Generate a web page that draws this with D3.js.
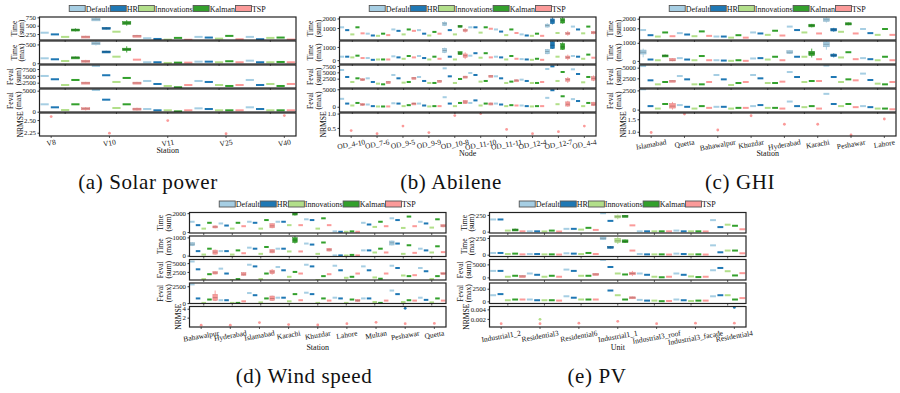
<!DOCTYPE html>
<html>
<head>
<meta charset="utf-8">
<script src="https://cdn.jsdelivr.net/npm/d3@7"></script>
<style>
  body { margin: 0; background: #fff; }
  svg text { font-family: "Liberation Serif", "DejaVu Serif", serif; fill: #111; }
</style>
</head>
<body>
<svg id="fig" width="900" height="393"></svg>
<script>
// Five figures, each five stacked box-plot panels (time / function evaluations / NRMSE)
const methods = ["Default", "HR", "Innovations", "Kalman", "TSP"];
const colors = ["#a6cee3", "#1f78b4", "#b2df8a", "#33a02c", "#fb9a99"];
const metricLabels = [["Time", "(sum)"], ["Time", "(max)"], ["Feval", "(sum)"], ["Feval", "(max)"], ["NRMSE"]];
const captions = ["(a) Solar power", "(b) Abilene", "(c) GHI", "(d) Wind speed", "(e) PV"];

// rows = category, columns = methods (Default, HR, Innovations, Kalman, TSP): medians
// boxes: [panel, category, method, q1, q3, whiskerLow, whiskerHigh] for the visibly wide boxes

// (a) Solar power
const solarStations = ["V8", "V10", "V11", "V25", "V40"];
const solarTimeSum = [[290, 240, 165, 375, 165], [690, 425, 320, 580, 195], [125, 103, 82, 135, 80], [165, 145, 113, 195, 95], [165, 95, 135, 145, 85]];
const solarTimeMax = [[131, 105, 60, 158, 53], [526, 305, 174, 368, 95], [26, 26, 8, 16, 16], [42, 42, 26, 53, 26], [68, 26, 26, 34, 26]];
const solarFevalSum = [[4960, 3750, 1650, 3490, 2390], [8640, 5220, 2760, 4230, 2390], [3120, 2020, 1290, 810, 1650], [3120, 2760, 1650, 1290, 1650], [3490, 1650, 2020, 1290, 2020]];
const solarFevalMax = [[1760, 1045, 400, 1760, 715], [5160, 2860, 880, 1760, 640], [640, 330, 330, 80, 330], [800, 640, 330, 330, 330], [1045, 640, 330, 330, 330]];
const solarNrmse = [2.57, 2.24, 2.49, 2.23, 2.59];
const solarBoxes = [
  [0, 1, 0, 644, 719, 640, 750], [0, 1, 3, 541, 625, 500, 665], [0, 0, 3, 355, 400, 330, 420],
  [0, 1, 1, 400, 450, 390, 460], [0, 0, 4, 140, 190, 130, 200], [0, 1, 4, 175, 215, 165, 225],
  [1, 1, 0, 490, 560, 470, 590], [1, 1, 1, 285, 325, 280, 330], [1, 1, 3, 335, 400, 285, 450],
  [1, 0, 4, 30, 80, 20, 90], [1, 0, 3, 148, 168, 140, 175],
  [2, 0, 4, 2100, 2700, 2000, 2800], [2, 1, 4, 2100, 2700, 2000, 2800],
  [3, 0, 4, 450, 950, 300, 1100], [3, 1, 4, 400, 850, 300, 950]];
const solarDomains = [[72, 760], [-20, 590], [550, 8970], [-70, 5400], [2.185, 2.64]];
const solarTicks = [["250", "500", "750"], ["0", "500"], ["2500", "5000", "7500"], ["0", "5000"], ["2.25", "2.50"]];

// (b) Abilene
const abileneNodes = ["OD_4-10", "OD_7-6", "OD_9-5", "OD_9-9", "OD_10-8", "OD_11-10", "OD_11-11", "OD_12-4", "OD_12-7", "OD_4-4"];
const abileneTimeSum = [[1075, 780, 335, 1075, 445], [410, 220, 185, 410, 260], [850, 705, 335, 850, 705], [780, 410, 220, 595, 410], [1445, 780, 335, 1185, 780],
  [1075, 1075, 520, 1075, 925], [850, 630, 260, 850, 480], [335, 220, 185, 410, 185], [1260, 1740, 480, 1815, 445], [1150, 850, 445, 1150, 520]];
const abileneTimeMax = [[263, 263, 210, 340, 160], [160, 26, 53, 53, 53], [290, 210, 105, 315, 210], [315, 160, 53, 263, 105], [735, 263, 53, 526, 340],
  [340, 526, 185, 526, 210], [263, 210, 53, 315, 105], [80, 53, 26, 105, 26], [660, 1130, 263, 1000, 210], [315, 263, 105, 420, 185]];
const abileneFevalSum = [[5920, 3160, 1180, 2630, 2100], [2630, 1180, 525, 260, 1200], [3950, 2630, 920, 1180, 2760], [3160, 1580, 790, 790, 1580], [6580, 3420, 790, 2370, 3160],
  [4740, 3950, 1320, 1580, 3550], [3420, 2630, 790, 1320, 1840], [2100, 1580, 790, 790, 1180], [6320, 7370, 1580, 5130, 2100], [6190, 4340, 1050, 3160, 2630]];
const abileneFevalMax = [[2270, 910, 360, 1090, 640], [640, 180, 80, 80, 90], [1000, 910, 180, 455, 910], [910, 360, 90, 180, 180], [2730, 910, 180, 1090, 1360],
  [1090, 1820, 360, 910, 820], [910, 640, 180, 455, 360], [360, 180, 90, 180, 180], [2550, 4730, 730, 3000, 730], [2180, 1640, 180, 1090, 730]];
const abileneNrmse = [0.41, 0.30, 0.565, 0.34, 0.93, 1.0, 0.45, 0.30, 0.37, 0.565];
const abileneBoxes = [
  [0, 4, 0, 1250, 1600, 1200, 1700], [0, 4, 3, 1100, 1280, 1075, 1300], [0, 4, 4, 700, 850, 520, 1000],
  [0, 8, 0, 1100, 1400, 1050, 1500], [0, 8, 1, 1450, 1950, 1370, 2100], [0, 8, 3, 1520, 1980, 1450, 2130],
  [0, 8, 4, 360, 520, 190, 700], [0, 9, 4, 400, 650, 350, 700],
  [1, 4, 0, 580, 900, 530, 950], [1, 4, 3, 420, 640, 400, 660], [1, 4, 4, 220, 470, 80, 600],
  [1, 8, 0, 480, 810, 450, 850], [1, 8, 1, 880, 1400, 850, 1430], [1, 8, 3, 820, 1250, 780, 1350], [1, 8, 4, 110, 310, 0, 420],
  [2, 0, 4, 1800, 2500, 1600, 2700], [2, 1, 4, 1050, 1320, 1000, 1400], [2, 2, 4, 2500, 3000, 2400, 3100],
  [2, 3, 4, 1350, 1800, 1300, 1900], [2, 4, 4, 2900, 3500, 2800, 3600], [2, 5, 4, 3300, 3800, 3200, 3900],
  [2, 6, 4, 1650, 2050, 1600, 2100], [2, 8, 4, 1500, 2600, 790, 3160], [2, 9, 4, 1900, 3300, 1500, 3800],
  [3, 0, 4, 350, 950, 250, 1050], [3, 2, 4, 700, 1100, 650, 1150], [3, 4, 4, 900, 1800, 800, 1900],
  [3, 5, 4, 500, 1100, 450, 1200], [3, 8, 4, 200, 1400, 0, 1700], [3, 9, 4, 300, 1300, 200, 1400]];
const abileneDomains = [[-250, 2150], [-290, 1450], [-1200, 7900], [-1500, 5080], [0.22, 1.02]];
const abileneTicks = [["1000", "2000"], ["0", "1000"], ["2500", "5000", "7500"], ["0", "5000"], ["0.5", "1.0"]];

// (c) GHI: the box panels hold 7 groups, the NRMSE panel 8 stations
const ghiStations = ["Islamabad", "Quetta", "Bahawalpur", "Khuzdar", "Hyderabad", "Karachi", "Peshawar", "Lahore"];
const ghiBoxStations = ["Islamabad", "Quetta", "Bahawalpur", "Khuzdar", "Hyderabad", "Karachi", "Peshawar"];
const ghiTimeSum = [[820, 285, 145, 570, 180], [500, 357, 180, 680, 215], [145, 145, 30, 285, 30], [570, 465, 320, 750, 250],
  [1180, 820, 570, 1285, 465], [1890, 857, 640, 1460, 465], [930, 500, 320, 930, 320]];
const ghiTimeMax = [[480, 77, 38, 290, 38], [154, 77, 38, 270, 38], [38, 20, 5, 38, 5], [135, 154, 77, 230, 38],
  [480, 230, 230, 422, 96], [920, 307, 192, 480, 96], [154, 96, 38, 230, 38]];
const ghiFevalSum = [[5380, 2030, 1090, 1640, 1870], [3040, 2260, 1090, 1090, 1640], [3280, 2260, 940, 1400, 1640], [3280, 2500, 1400, 1400, 1720],
  [3980, 2810, 1640, 1870, 1870], [5500, 2810, 1640, 2260, 2030], [3610, 2110, 1250, 1090, 1640]];
const ghiFevalMax = [[2640, 455, 136, 730, 455], [590, 364, 136, 455, 227], [364, 364, 136, 227, 227], [455, 590, 227, 227, 136],
  [1050, 455, 320, 455, 136], [2050, 730, 455, 730, 320], [455, 320, 136, 136, 45]];
const ghiNrmse = [0.97, 1.71, 1.07, 1.64, 1.30, 1.30, 0.87, 1.51];
const ghiBoxes = [
  [0, 4, 3, 1150, 1430, 1100, 1460], [0, 5, 0, 1720, 2050, 1600, 2150], [0, 5, 1, 720, 1000, 650, 1050], [0, 5, 3, 1350, 1580, 1320, 1600],
  [1, 0, 0, 380, 600, 200, 680], [1, 0, 3, 250, 330, 230, 350], [1, 0, 4, 0, 140, -20, 160],
  [1, 4, 0, 400, 570, 380, 590], [1, 4, 3, 300, 530, 190, 680], [1, 5, 0, 780, 1050, 620, 1090], [1, 5, 1, 240, 380, 190, 420],
  [2, 0, 4, 1700, 2050, 1650, 2100], [3, 0, 4, 200, 800, 0, 1000]];
const ghiDomains = [[-215, 2180], [-170, 1100], [230, 5630], [-310, 2680], [0.83, 1.75]];
const ghiTicks = [["1000", "2000"], ["0", "1000"], ["2500", "5000"], ["0", "2500"], ["1.0", "1.5"]];

// (d) Wind speed
const windStations = ["Bahawalpur", "Hyderabad", "Islamabad", "Karachi", "Khuzdar", "Lahore", "Multan", "Peshawar", "Quetta"];
const windTimeSum = [[1090, 730, 364, 980, 545], [910, 690, 364, 980, 620], [1090, 980, 364, 1270, 655], [1090, 1090, 730, 1930, 730], [1350, 1270, 364, 1455, 730],
  [73, 30, 30, 73, 30], [980, 800, 545, 1090, 620], [1455, 1270, 437, 1640, 620], [1090, 910, 473, 1350, 655]];
const windTimeMax = [[625, 245, 57, 378, 190], [245, 245, 57, 285, 130], [435, 378, 95, 472, 245], [378, 378, 227, 850, 227], [660, 605, 95, 718, 320],
  [10, 10, 5, 38, 10], [285, 285, 170, 378, 170], [700, 660, 95, 567, 150], [378, 285, 170, 510, 190]];
const windFevalSum = [[5460, 3240, 460, 1850, 2220], [3430, 2040, 185, 460, 1850], [4540, 4070, 460, 2040, 2500], [3890, 2960, 1110, 2500, 2040], [4540, 4070, 185, 1300, 1850],
  [4260, 2960, 830, 1110, 2040], [4070, 2960, 925, 555, 2040], [4260, 3610, 1480, 1300, 1570], [3610, 2690, 460, 1300, 2040]];
const windFevalMax = [[2770, 690, 30, 530, 800], [425, 425, 30, 30, 265], [1490, 1170, 106, 690, 690], [800, 800, 265, 1330, 425], [1540, 1330, 30, 690, 370],
  [800, 690, 30, 530, 370], [690, 690, 160, 30, 370], [1860, 1330, 160, 425, 370], [800, 480, 106, 690, 370]];
const windNrmse = [0.3, 0.3, 0.9, 0.45, 0.35, 0.65, 0.95, 0.65, 0.7];
const windNrmseExtra = [[7, 1, 4.1]];
const windBoxes = [
  [0, 0, 4, 450, 650, 400, 700], [0, 2, 4, 450, 880, 400, 920], [0, 3, 3, 1800, 2050, 1750, 2070], [0, 8, 4, 550, 780, 500, 800],
  [1, 0, 0, 540, 710, 520, 730], [1, 0, 4, 80, 300, 50, 330], [1, 2, 4, 150, 330, 130, 350], [1, 3, 3, 720, 980, 660, 1070],
  [1, 4, 4, 250, 400, 230, 420], [1, 7, 0, 580, 800, 560, 820],
  [2, 0, 4, 1900, 2600, 1800, 2700], [2, 1, 4, 1500, 2300, 1400, 2400], [2, 2, 4, 2000, 3000, 1700, 3300], [2, 8, 4, 1800, 2300, 1700, 2400],
  [3, 0, 4, 400, 1300, 300, 1860], [3, 2, 4, 400, 1050, 350, 1100], [3, 5, 4, 250, 550, 200, 600]];
const windDomains = [[-100, 2070], [-50, 1075], [200, 6030], [-60, 2980], [-0.1, 4.5]];
const windTicks = [["0", "2000"], ["0", "1000"], ["2500", "5000"], ["0", "2500"], ["2", "4"]];

// (e) PV
const pvUnits = ["Industrial1_2", "Residential3", "Residential6", "Industrial1_1", "Industrial3_roof", "Industrial3_facade", "Residential4"];
const pvTimeSum = [[182, 182, 16, 26, 5], [5, 5, 3, 16, 2], [42, 42, 31, 57, 26], [275, 161, 224, 234, 94], [5, 5, 5, 5, 5], [16, 5, 5, 5, 3], [172, 68, 104, 88, 36]];
const pvTimeMax = [[26, 26, 10, 16, 5], [10, 10, 5, 5, 2], [21, 16, 10, 26, 10], [244, 114, 208, 198, 62], [10, 5, 5, 5, 2], [16, 10, 5, 5, 2], [140, 36, 62, 62, 21]];
const pvFevalSum = [[2500, 2500, 250, 625, 500], [1500, 1000, 250, 625, 250], [3000, 2500, 625, 625, 1250], [6750, 4000, 1500, 1125, 1500],
  [1500, 1000, 250, 50, 250], [1500, 1000, 375, 125, 250], [2750, 3625, 2375, 750, 1625]];
const pvFevalMax = [[1210, 1430, 215, 360, 360], [360, 215, 215, 215, 140], [1000, 715, 360, 360, 360], [3930, 2140, 1210, 360, 715],
  [285, 140, 140, 30, 70], [360, 215, 70, 140, 140], [1000, 1210, 1210, 360, 640]];
const pvNrmse = [0.0010, 0.0010, 0.0011, 0.0015, 0.0010, 0.0011, 0.0011];
const pvNrmseExtra = [[1, 2, 0.0019], [6, 1, 0.0044]];
const pvBoxes = [
  [0, 3, 2, 205, 240, 185, 255], [0, 3, 3, 225, 243, 220, 248], [0, 0, 3, 15, 40, 10, 45],
  [1, 3, 0, 225, 265, 220, 270], [1, 3, 2, 185, 245, 160, 268], [1, 3, 3, 180, 222, 175, 226], [1, 3, 1, 100, 125, 95, 130],
  [2, 3, 4, 1000, 2000, 500, 2500], [2, 2, 4, 1000, 1500, 900, 1600], [2, 0, 4, 300, 700, 250, 750],
  [3, 3, 4, 550, 900, 500, 950]];
const pvDomains = [[-20, 286], [-27, 280], [-1000, 6880], [-430, 3630], [0.0003, 0.0046]];
const pvTicks = [["0", "250"], ["0", "250"], ["0", "5000"], ["0", "2500"], ["0.002", "0.004"]];

const figures = [
  { id: "a", caption: captions[0], xlabel: "Station", groups: solarStations, labels: solarStations,
    metrics: [solarTimeSum, solarTimeMax, solarFevalSum, solarFevalMax], nrmse: solarNrmse, extra: [],
    boxes: solarBoxes, domains: solarDomains, ticks: solarTicks,
    left: 39.5, right: 296, top: 17, panelH: 23, gap: 1, xlabelY: 153, capX: 148, capY: 189 },
  { id: "b", caption: captions[1], xlabel: "Node", groups: abileneNodes, labels: abileneNodes,
    metrics: [abileneTimeSum, abileneTimeMax, abileneFevalSum, abileneFevalMax], nrmse: abileneNrmse, extra: [],
    boxes: abileneBoxes, domains: abileneDomains, ticks: abileneTicks,
    left: 339.5, right: 596, top: 17, panelH: 23, gap: 1, xlabelY: 155.5, capX: 451, capY: 189 },
  { id: "c", caption: captions[2], xlabel: "Station", groups: ghiBoxStations, labels: ghiStations,
    metrics: [ghiTimeSum, ghiTimeMax, ghiFevalSum, ghiFevalMax], nrmse: ghiNrmse, extra: [],
    boxes: ghiBoxes, domains: ghiDomains, ticks: ghiTicks,
    left: 639.5, right: 896, top: 17, panelH: 23, gap: 1, xlabelY: 155.5, capX: 740, capY: 189 },
  { id: "d", caption: captions[3], xlabel: "Station", groups: windStations, labels: windStations,
    metrics: [windTimeSum, windTimeMax, windFevalSum, windFevalMax], nrmse: windNrmse, extra: windNrmseExtra,
    boxes: windBoxes, domains: windDomains, ticks: windTicks,
    left: 189.5, right: 446, top: 212.5, panelH: 20.5, gap: 3, xlabelY: 349.5, capX: 304, capY: 383 },
  { id: "e", caption: captions[4], xlabel: "Unit", groups: pvUnits, labels: pvUnits,
    metrics: [pvTimeSum, pvTimeMax, pvFevalSum, pvFevalMax], nrmse: pvNrmse, extra: pvNrmseExtra,
    boxes: pvBoxes, domains: pvDomains, ticks: pvTicks,
    left: 489.5, right: 746, top: 212.5, panelH: 20.5, gap: 3, xlabelY: 349.5, capX: 597, capY: 383 },
];

const svg = d3.select("#fig");
const defs = svg.append("defs");
const rot = 10 * Math.PI / 180;

function drawFigure(p) {
  const g = svg.append("g");
  const step = p.panelH + p.gap;

  // legend, centred over the panels
  const leg = g.append("g");
  let lx = 0;
  methods.forEach((m, i) => {
    leg.append("rect").attr("x", lx).attr("y", 0).attr("width", 16).attr("height", 6)
      .attr("fill", colors[i]).attr("stroke", "#555").attr("stroke-width", 0.9);
    const t = leg.append("text").attr("x", lx + 16.5).attr("y", 6.2).attr("font-size", 8).text(m);
    lx += 16.5 + t.node().getComputedTextLength() + 0.5;
  });
  leg.attr("transform", `translate(${(p.left + p.right) / 2 - lx / 2},${p.top - 11.5})`);

  const xBand = d3.scaleBand().domain(p.groups).range([p.left, p.right]);
  // NRMSE panel: line-style axis with 5% margins, its labels are the figure's x labels
  const xPt = d3.scalePoint().domain(p.labels).range([p.left, p.right]).padding(0.05 * (p.labels.length - 1));

  metricLabels.forEach((lab, k) => {
    const y0 = p.top + k * step, y1 = y0 + p.panelH;
    const y = d3.scaleLinear().domain(p.domains[k]).range([y1, y0]);
    const clipId = `clip-${p.id}-${k}`;
    defs.append("clipPath").attr("id", clipId).append("rect")
      .attr("x", p.left).attr("y", y0).attr("width", p.right - p.left).attr("height", p.panelH);
    const pg = g.append("g");
    const marks = pg.append("g").attr("clip-path", `url(#${clipId})`);

    if (k < 4) {
      const slot = xBand.bandwidth() / 5, w = slot * 0.8;
      p.metrics[k].forEach((row, c) => row.forEach((v, m) => {
        const cx = xBand(p.groups[c]) + slot * (m + 0.5);
        const col = colors[m];
        const bx = p.boxes.find((b) => b[0] === k && b[1] === c && b[2] === m);
        if (bx) {
          marks.append("line").attr("x1", cx).attr("x2", cx).attr("y1", y(bx[5])).attr("y2", y(bx[6]))
            .attr("stroke", col).attr("stroke-width", 0.9);
          marks.append("rect").attr("x", cx - w / 2).attr("width", w)
            .attr("y", y(bx[4])).attr("height", Math.max(2, y(bx[3]) - y(bx[4])))
            .attr("fill", col).attr("stroke", d3.color(col).darker(0.4)).attr("stroke-width", 0.5);
          marks.append("line").attr("x1", cx - w / 2).attr("x2", cx + w / 2).attr("y1", y(v)).attr("y2", y(v))
            .attr("stroke", d3.color(col).darker(0.9)).attr("stroke-width", 0.8);
        } else {
          marks.append("rect").attr("x", cx - w / 2).attr("width", w).attr("y", y(v) - 1).attr("height", 2)
            .attr("fill", col);
        }
      }));
      pg.selectAll("line.xt").data(p.groups).join("line").attr("class", "xt")
        .attr("x1", (d) => xBand(d) + xBand.bandwidth() / 2).attr("x2", (d) => xBand(d) + xBand.bandwidth() / 2)
        .attr("y1", y1).attr("y2", y1 + 2).attr("stroke", "#333").attr("stroke-width", 0.8);
    } else {
      p.extra.forEach(([c, m, v]) => {
        marks.append("circle").attr("cx", xPt(p.labels[c])).attr("cy", y(v)).attr("r", 1.4).attr("fill", colors[m]);
      });
      marks.selectAll("circle.nr").data(p.nrmse).join("circle").attr("class", "nr")
        .attr("cx", (d, i) => xPt(p.labels[i])).attr("cy", (d) => y(d)).attr("r", 1.4).attr("fill", colors[4]);
      pg.selectAll("line.xt").data(p.labels).join("line").attr("class", "xt")
        .attr("x1", (d) => xPt(d)).attr("x2", (d) => xPt(d))
        .attr("y1", y1).attr("y2", y1 + 2).attr("stroke", "#333").attr("stroke-width", 0.8);
      // rotated tick labels, top-aligned below the panel
      p.labels.forEach((d) => {
        const t = pg.append("text").attr("font-size", 7.5).attr("text-anchor", "middle").text(d);
        const tw = t.node().getComputedTextLength();
        const cy = y1 + 2.5 + (tw * Math.sin(rot) + 7 * Math.cos(rot)) / 2;
        t.attr("x", xPt(d)).attr("y", cy).attr("dy", "0.33em").attr("transform", `rotate(-10,${xPt(d)},${cy})`);
      });
      g.append("text").attr("x", (p.left + p.right) / 2).attr("y", p.xlabelY).attr("text-anchor", "middle")
        .attr("font-size", 8).text(p.xlabel);
    }

    const tv = p.ticks[k].map(Number);
    const ax = pg.append("g").attr("transform", `translate(${p.left},0)`)
      .call(d3.axisLeft(y).tickValues(tv).tickFormat((d, i) => p.ticks[k][i]).tickSize(2).tickPadding(1.5));
    ax.select(".domain").remove();
    ax.selectAll("line").attr("stroke", "#333");
    ax.selectAll("text").attr("font-size", 6.8).attr("font-family", '"Liberation Serif", serif').attr("fill", "#111");

    pg.append("rect").attr("x", p.left).attr("y", y0).attr("width", p.right - p.left).attr("height", p.panelH)
      .attr("fill", "none").attr("stroke", "#222").attr("stroke-width", 1.2);

    const minX = p.left + ax.node().getBBox().x;
    const yc = (y0 + y1) / 2;
    lab.slice().reverse().forEach((s, j) => {
      const x = minX - 1.5 - j * 7.5;
      g.append("text").attr("x", x).attr("y", yc).attr("text-anchor", "middle").attr("font-size", 7.6)
        .attr("transform", `rotate(-90,${x},${yc})`).text(s);
    });
  });

  g.append("text").attr("x", p.capX).attr("y", p.capY).attr("text-anchor", "middle")
    .attr("font-size", 21).attr("letter-spacing", 0.6).text(p.caption);
}

figures.forEach(drawFigure);
</script>
</body>
</html>
